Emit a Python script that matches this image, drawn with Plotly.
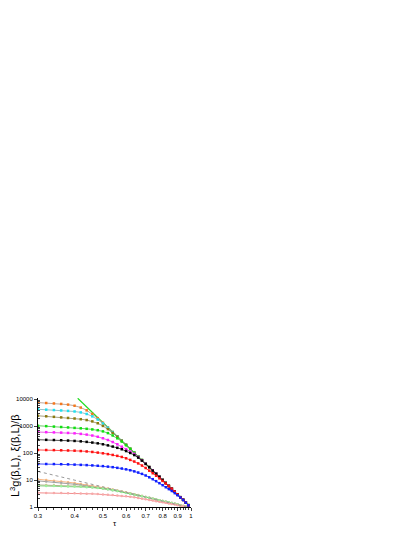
import plotly.graph_objects as go

# temperature axis (shared by all finite-size curves)
TAU = [0.30, 0.32, 0.34, 0.36, 0.38, 0.40, 0.42, 0.44, 0.46, 0.48,
       0.50, 0.52, 0.54, 0.56, 0.58, 0.60, 0.62, 0.64, 0.66, 0.68,
       0.70, 0.72, 0.74, 0.76, 0.78, 0.80, 0.82, 0.84, 0.86, 0.88,
       0.90, 0.92, 0.94, 0.96, 0.98]
TAU_LOW = TAU[:-1]

# L^3 g(beta, L) for the different sizes
G_ORANGE = [7590, 7310, 7030, 6750, 6370, 5790, 4950, 3910, 2870, 2000,
            1350, 912, 614, 425, 294, 206, 146, 104, 76.0, 55.7,
            41.1, 30.7, 23.0, 17.4, 13.3, 10.2, 7.88, 6.12, 4.79, 3.76,
            2.95, 2.33, 1.86, 1.48, 1.18]
G_CYAN = [4270, 4130, 4000, 3860, 3720, 3540, 3270, 2860, 2330, 1780,
          1270, 889, 607, 424, 292, 205, 145, 103.5, 75.5, 55.3,
          40.8, 30.5, 22.9, 17.3, 13.2, 10.1, 7.84, 6.09, 4.77, 3.74,
          2.94, 2.32, 1.85, 1.47, 1.17]
G_OLIVE = [2455, 2344, 2239, 2135, 2037, 1940, 1830, 1700, 1520, 1294,
           1030, 785, 569, 410, 290, 205, 145, 103, 75.3, 55.1,
           40.7, 30.4, 22.8, 17.2, 13.2, 10.1, 7.82, 6.08, 4.76, 3.73,
           2.93, 2.31, 1.85, 1.47, 1.17]
G_GREEN = [1047, 1009, 973, 938, 904, 870, 838, 804, 764, 714,
           646, 557, 455, 357, 269, 197, 144, 104, 75.8, 55.5,
           41.0, 30.6, 23.0, 17.3, 13.3, 10.2, 7.86, 6.10, 4.78, 3.75,
           2.94, 2.32, 1.86, 1.48, 1.18]
G_MAGENTA = [610, 603, 593, 581, 565, 546, 521, 490, 452, 407,
             359, 309, 260, 214, 174, 141, 115, 94.4, 72.4, 54.3,
             40.5, 30.5, 23.0, 17.4, 13.2, 10.1, 7.80, 6.05, 4.74, 3.72,
             2.92, 2.31, 1.84, 1.46, 1.16]
G_BLACK = [316, 313, 308, 302, 294, 285, 275, 263, 248, 232,
           214, 195, 176, 158, 140, 120, 102, 85.1, 68.4, 53.1,
           39.8, 30.0, 22.6, 17.2, 13.2, 10.1, 7.78, 6.03, 4.73, 3.71,
           2.92, 2.30, 1.84, 1.46, 1.16]
G_RED = [132, 131, 130, 128, 126, 124, 120, 116, 111, 105,
         98.9, 92.3, 86.1, 79.4, 72.4, 64.6, 56.2, 49.0, 41.7, 34.7,
         28.2, 22.4, 18.0, 14.5, 11.6, 9.33, 7.50, 5.96, 4.73, 3.70,
         2.90, 2.30, 1.84, 1.46, 1.16]
G_BLUE = [39.8, 39.6, 39.4, 38.9, 38.4, 37.6, 36.8, 36.0, 35.1, 34.0,
          33.0, 31.6, 30.2, 28.5, 26.9, 25.1, 23.2, 21.1, 19.1, 17.0,
          14.8, 12.7, 10.8, 9.12, 7.67, 6.46, 5.43, 4.62, 3.94, 3.27,
          2.72, 2.26, 1.82, 1.45, 1.15]

# xi(beta, L) / beta
XI_ORANGE = [10.7, 10.1, 9.51, 8.91, 8.32, 7.76, 7.21, 6.70, 6.19, 5.71,
             5.25, 4.82, 4.44, 4.09, 3.78, 3.50, 3.24, 3.00, 2.78, 2.57,
             2.33, 2.17, 2.03, 1.91, 1.78, 1.67, 1.57, 1.48, 1.40, 1.32,
             1.24, 1.17, 1.10, 1.04]
XI_GRAY = [9.33, 8.87, 8.41, 7.94, 7.46, 7.00, 6.55, 6.11, 5.69, 5.27,
           4.90, 4.54, 4.22, 3.93, 3.66, 3.40, 3.16, 2.94, 2.73, 2.54,
           2.36, 2.19, 2.04, 1.91, 1.79, 1.68, 1.58, 1.49, 1.40, 1.32,
           1.24, 1.17, 1.10, 1.04]
XI_OLIVE = [6.61, 6.53, 6.43, 6.31, 6.17, 6.03, 5.86, 5.68, 5.47, 5.25,
            5.01, 4.70, 4.37, 4.05, 3.74, 3.47, 3.20, 2.95, 2.74, 2.54,
            2.36, 2.19, 2.04, 1.91, 1.79, 1.67, 1.57, 1.48, 1.40, 1.32,
            1.24, 1.17, 1.10, 1.04]
XI_GREEN = [6.10, 6.05, 6.00, 5.93, 5.83, 5.73, 5.60, 5.44, 5.27, 5.07,
            4.84, 4.52, 4.19, 3.89, 3.60, 3.34, 3.10, 2.88, 2.68, 2.49,
            2.32, 2.17, 2.03, 1.90, 1.79, 1.68, 1.58, 1.49, 1.40, 1.32,
            1.24, 1.17, 1.10, 1.04]
XI_PINK = [3.36, 3.34, 3.33, 3.30, 3.27, 3.24, 3.19, 3.14, 3.08, 3.01,
           2.93, 2.85, 2.77, 2.68, 2.59, 2.49, 2.40, 2.30, 2.16, 2.04,
           1.93, 1.83, 1.74, 1.65, 1.57, 1.50, 1.43, 1.36, 1.29, 1.23,
           1.17, 1.12, 1.07, 1.02]

# power-law guides
GUIDE_G_TAU = [0.41, 0.99]
GUIDE_G_VAL = [11000, 1.05]
GUIDE_XI_TAU = [0.30, 0.97]
GUIDE_XI_VAL = [21, 1.0]

X_TICKS = [0.3, 0.4, 0.5, 0.6, 0.7, 0.8, 0.9, 1.0]
X_LABELS = ["0.3", "0.4", "0.5", "0.6", "0.7", "0.8", "0.9", "1"]
Y_TICKS = [1, 10, 100, 1000, 10000]
Y_LABELS = ["1", "10", "100", "1000", "10000"]

fig = go.Figure()

lower = [
    (XI_ORANGE, "#f7b880", "#f4a060"),
    (XI_GRAY, "#a8a8a8", "#8c8c8c"),
    (XI_OLIVE, "#c8c890", "#a0a070"),
    (XI_GREEN, "#9cf09c", "#70d070"),
    (XI_PINK, "#f6a8a8", "#ee7070"),
]
for vals, mcol, lcol in lower:
    fig.add_trace(go.Scatter(
        x=TAU_LOW, y=vals, mode="lines+markers",
        line=dict(color=lcol, width=0.8),
        marker=dict(color=mcol, size=2.5, symbol="circle"),
        showlegend=False,
    ))

fig.add_trace(go.Scatter(
    x=GUIDE_XI_TAU, y=GUIDE_XI_VAL, mode="lines",
    line=dict(color="#9a9a9a", width=1, dash="dot"),
    showlegend=False,
))

fig.add_trace(go.Scatter(
    x=GUIDE_G_TAU, y=GUIDE_G_VAL, mode="lines",
    line=dict(color="#22dd22", width=1.2),
    showlegend=False,
))

upper = [
    (G_ORANGE, "#f5781e", "#b09080"),
    (G_CYAN, "#20e0f0", "#80b0b8"),
    (G_OLIVE, "#8a7a10", "#908860"),
    (G_GREEN, "#10e010", "#40c040"),
    (G_MAGENTA, "#ff20ff", "#e040e0"),
    (G_BLACK, "#000000", "#202020"),
    (G_RED, "#ff1010", "#ff2020"),
    (G_BLUE, "#1020ff", "#1020ff"),
]
for vals, mcol, lcol in upper:
    fig.add_trace(go.Scatter(
        x=TAU, y=vals, mode="lines+markers",
        line=dict(color=lcol, width=0.8),
        marker=dict(color=mcol, size=2.5, symbol="square"),
        showlegend=False,
    ))

axis_font = dict(family="Arial", size=6, color="#000000")

fig.update_xaxes(
    type="log",
    range=[-0.5229, 0.0],
    tickvals=X_TICKS,
    ticktext=X_LABELS,
    tickfont=axis_font,
    ticks="outside",
    ticklen=3,
    tickwidth=0.8,
    minor=dict(ticks="outside", ticklen=1.5, tickwidth=0.6,
               tickvals=[0.32, 0.34, 0.36, 0.38, 0.42, 0.44, 0.46, 0.48,
                         0.52, 0.54, 0.56, 0.58, 0.62, 0.64, 0.66, 0.68,
                         0.72, 0.74, 0.76, 0.78, 0.82, 0.84, 0.86, 0.88,
                         0.92, 0.94, 0.96, 0.98]),
    showline=True,
    linecolor="#000000",
    linewidth=1,
    showgrid=False,
    zeroline=False,
    automargin=False,
    title=dict(text="τ", font=dict(family="Arial", size=8, color="#000000"),
               standoff=2),
)

fig.update_yaxes(
    type="log",
    range=[0, 4.05],
    tickvals=Y_TICKS,
    ticktext=Y_LABELS,
    tickfont=axis_font,
    ticks="outside",
    ticklen=3,
    tickwidth=0.8,
    minor=dict(ticks="inside", ticklen=1.5, tickwidth=0.6,
               tickvals=[2, 3, 4, 5, 6, 7, 8, 9,
                         20, 30, 40, 50, 60, 70, 80, 90,
                         200, 300, 400, 500, 600, 700, 800, 900,
                         2000, 3000, 4000, 5000, 6000, 7000, 8000, 9000]),
    showline=True,
    linecolor="#000000",
    linewidth=1,
    showgrid=False,
    zeroline=False,
    automargin=False,
)

# y title as a rotated annotation so it can sit close to the tick labels
fig.add_annotation(
    text="L<sup>3</sup>g(β,L), ξ(β,L)/β",
    xref="paper", yref="paper",
    x=-0.155, y=0.47,
    xanchor="center", yanchor="middle",
    textangle=-90,
    showarrow=False,
    font=dict(family="Arial", size=11, color="#000000"),
)

# the page body adds an 8px offset, so margins are shifted to compensate
fig.update_layout(
    width=415,
    height=537,
    paper_bgcolor="#ffffff",
    plot_bgcolor="#ffffff",
    margin=dict(l=30, r=232, t=390, b=37.5),
    showlegend=False,
)

fig.write_html("out.html")
